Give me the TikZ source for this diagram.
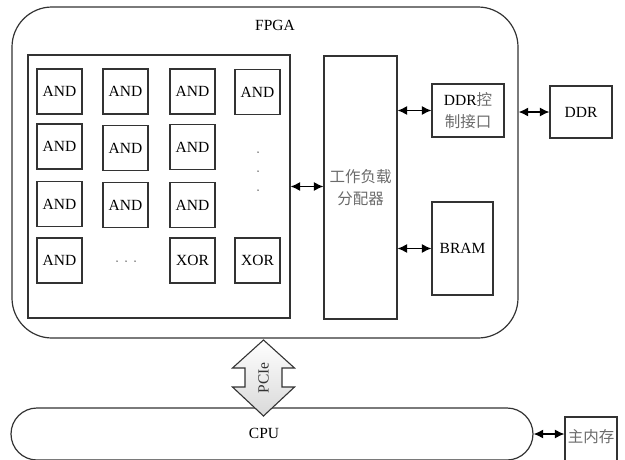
\documentclass[tikz,border=0pt]{standalone}
\usepackage{fontspec}
\setmainfont{Liberation Serif}
\newfontfamily\tnr{Liberation Serif}
\newfontfamily\cjk{Noto Sans CJK SC}
\usetikzlibrary{arrows.meta}
\definecolor{linegray}{gray}{0.2}
\definecolor{cjkgray}{gray}{0.42}
\newcommand\zh[1]{{\cjk\color{cjkgray}#1}}
\begin{document}
\begin{tikzpicture}[x=1pt,y=-1pt,
  box/.style={draw=linegray, line width=1.1pt, inner sep=0pt},
  gate/.style={box, minimum width=45pt, minimum height=45pt},
  biarrow/.style={line width=1.4pt, {Latex[length=9.5pt,width=9pt]}-{Latex[length=9.5pt,width=9pt]}},
  txt/.style={font=\tnr\fontsize{15.5}{22.5}\selectfont, align=center},
  dot/.style={circle, fill=linegray, inner sep=0pt, minimum size=1.5pt}
]
\useasboundingbox (0,0) rectangle (625,459);

% FPGA board
\node[box, line width=1.2pt, rounded corners=40pt, minimum width=506pt, minimum height=331pt] (fpga) at (265,172.5) {};
\node[txt] (fpgalbl) at (275,25) {FPGA};

% gate array
\node[box, minimum width=262pt, minimum height=263pt] (garr) at (159,186.5) {};
\node[gate, txt] (g11) at (59.5,91.5) {AND};
\node[gate, txt] (g12) at (125.5,91.5) {AND};
\node[gate, txt] (g13) at (192.5,91.5) {AND};
\node[gate, txt] (g14) at (257.5,92) {AND};
\node[gate, txt] (g21) at (59.5,146.5) {AND};
\node[gate, txt] (g22) at (125.5,148) {AND};
\node[gate, txt] (g23) at (192.5,147) {AND};
\node[gate, txt] (g31) at (59.5,204) {AND};
\node[gate, txt] (g32) at (125.5,205) {AND};
\node[gate, txt] (g33) at (192.5,205) {AND};
\node[gate, txt] (g41) at (59.5,260.5) {AND};
\node[gate, txt] (g43) at (192.5,260.5) {XOR};
\node[gate, txt] (g44) at (257.5,260.5) {XOR};
% ellipses
\node[dot] (v1) at (258,152) {};
\node[dot] (v2) at (258,171) {};
\node[dot] (v3) at (258,190) {};
\node[dot] (h1) at (117,261) {};
\node[dot] (h2) at (126,261) {};
\node[dot] (h3) at (135,261) {};

% workload distributor and memories
\node[box, txt, minimum width=73pt, minimum height=263pt] (dist) at (360.5,187.5) {\zh{工作负载}\\\zh{分配器}};
\node[box, txt, minimum width=72pt, minimum height=53pt] (ctrl) at (468,110.5) {DDR\zh{控}\\\zh{制接口}};
\node[box, txt, minimum width=61pt, minimum height=93pt] (bram) at (462.5,248.5) {BRAM};
\node[box, txt, minimum width=62pt, minimum height=52pt] (ddr) at (581,112) {DDR};

\draw[biarrow] (garr.east) -- (garr.east -| dist.west);
\draw[biarrow] (ctrl.west -| dist.east) -- (ctrl.west);
\draw[biarrow] (bram.west -| dist.east) -- (bram.west);
\draw[biarrow] (ddr.west -| fpga.east) -- (ddr.west);

% host side
\node[box, line width=1.2pt, rounded corners=26pt, minimum width=522pt, minimum height=52pt] (cpu) at (272,434) {};
\node[txt] (cpulbl) at (264,433) {CPU};
\node[box, minimum width=52pt, minimum height=60pt] (mem) at (591,447) {};
\node[txt] (memlbl) at (591,437) {\zh{主内存}};
\draw[biarrow] (cpu.east) -- (cpu.east -| mem.west);

% PCIe link
\path[draw=linegray, line width=1.1pt, top color=white, bottom color=gray!30]
  (263.5,340) -- (294.5,368) -- (282,368) -- (282,387) -- (294.5,387) -- (263.5,416)
  -- (232.5,387) -- (245,387) -- (245,368) -- (232.5,368) -- cycle;
\node[txt, rotate=90, text=black!80] (pcie) at (263.5,378) {PCIe};
\end{tikzpicture}
\end{document}
